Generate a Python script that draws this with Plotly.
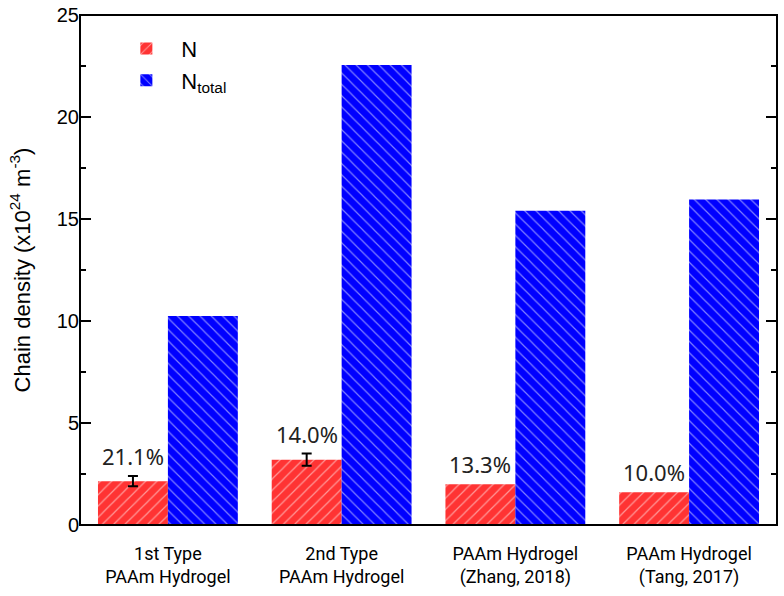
import plotly.graph_objects as go

categories = ["1st Type<br>PAAm Hydrogel", "2nd Type<br>PAAm Hydrogel",
              "PAAm Hydrogel<br>(Zhang, 2018)", "PAAm Hydrogel<br>(Tang, 2017)"]
n_values = [2.15, 3.2, 2.0, 1.6]
# error bars only exist for the first two groups
n_errors = [0.25, 0.3]
ntotal_values = [10.25, 22.55, 15.4, 15.95]
pct_labels = ["21.1%", "14.0%", "13.3%", "10.0%"]

x_idx = list(range(len(categories)))

fig = go.Figure()
fig.add_trace(go.Bar(
    x=x_idx, y=n_values, name="N",
    marker=dict(color="#FF3333", line=dict(width=0),
                pattern=dict(shape="/", fgcolor="white", size=8, solidity=0.15)),
    error_y=dict(type="data", array=n_errors, color="black", thickness=2, width=5,
                 visible=True),
))
fig.add_trace(go.Bar(
    x=x_idx, y=ntotal_values, name="N<sub>total</sub>",
    marker=dict(color="#0000FF", line=dict(width=0),
                pattern=dict(shape="\\", fgcolor="white", size=8, solidity=0.15)),
))

for i, (v, t) in enumerate(zip(n_values, pct_labels)):
    top = v + (n_errors[i] if i < len(n_errors) else 0)
    fig.add_annotation(x=i - 0.201, y=top, text=t, showarrow=False,
                       yanchor="bottom", yshift=3,
                       font=dict(family="Noto Sans", size=22, color="#222"))

# plot frame
fig.add_shape(type="rect", xref="paper", yref="paper", x0=0, x1=1, y0=0, y1=1,
              line=dict(color="black", width=2), fillcolor="rgba(0,0,0,0)", layer="above")

fig.update_layout(
    width=784, height=596,
    margin=dict(l=80, r=7, t=15, b=71, autoexpand=False),
    plot_bgcolor="white", paper_bgcolor="white",
    barmode="group", bargap=0.195, bargroupgap=0,
    showlegend=True,
    legend=dict(x=0.045, y=0.975, xanchor="left", yanchor="top",
                font=dict(family="Liberation Sans, Arial", size=22, color="black"),
                bgcolor="rgba(0,0,0,0)", itemwidth=60, tracegroupgap=2),
    xaxis=dict(
        tickmode="array", tickvals=x_idx, ticktext=categories,
        range=[-0.506, 3.506], automargin=False,
        showline=False, ticks="", ticklabelstandoff=16,
        tickfont=dict(family="Roboto", size=18, color="black"),
        showgrid=False, zeroline=False,
    ),
    yaxis=dict(
        range=[0, 25], tickvals=[0, 5, 10, 15, 20, 25], automargin=False,
        showline=False, mirror="ticks",
        ticks="inside", ticklen=11, tickwidth=2, tickcolor="black",
        minor=dict(dtick=2.5, ticks="inside", ticklen=6, tickwidth=2, tickcolor="black"),
        tickfont=dict(family="Liberation Sans, Arial", size=20, color="black"),
        title=dict(text="Chain density (x10<sup>24</sup> m<sup>-3</sup>)",
                   font=dict(family="Liberation Sans, Arial", size=22, color="black"),
                   standoff=20),
        showgrid=False, zeroline=False,
    ),
)

fig.write_html("out.html", config={"displayModeBar": False},
               post_script="document.body.style.margin='0';document.body.style.overflow='hidden';")
